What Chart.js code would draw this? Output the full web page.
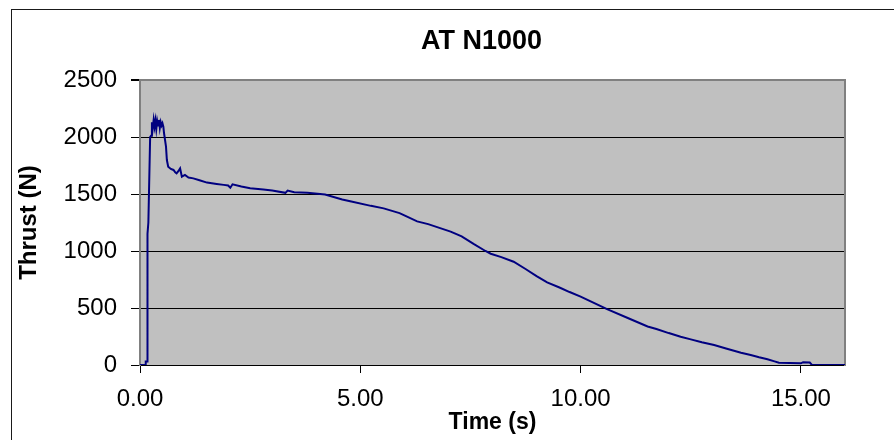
<!DOCTYPE html>
<html>
<head>
<meta charset="utf-8">
<script src="https://cdn.jsdelivr.net/npm/chart.js@4"></script>
<style>
  html, body { margin: 0; padding: 0; background: #ffffff; }
  #wrap { width: 894px; height: 440px; position: relative; }
</style>
</head>
<body>
<div id="wrap"><canvas id="c"></canvas></div>
<script>
const chartTitle = 'AT N1000';
const xAxisTitle = 'Time (s)';
const yAxisTitle = 'Thrust (N)';
const xTickValues = [0, 5, 10, 15];
const yTickValues = [0, 500, 1000, 1500, 2000, 2500];

const timeS = [0, 0.12, 0.13, 0.16, 0.17, 0.19, 0.23, 0.25, 0.27, 0.29, 0.31, 0.33, 0.35, 0.37,
  0.39, 0.41, 0.43, 0.45, 0.47, 0.49, 0.51, 0.53, 0.545, 0.59, 0.61, 0.64, 0.70, 0.76, 0.80,
  0.83, 0.87, 0.91, 0.95, 1.02, 1.10, 1.21, 1.35, 1.52, 1.74, 1.90, 2.00, 2.05, 2.10, 2.30,
  2.50, 2.80, 3.00, 3.30, 3.35, 3.50, 3.80, 4.20, 4.59, 4.77, 5.24, 5.53, 5.89, 6.00, 6.29,
  6.54, 7.05, 7.30, 7.57, 7.84, 7.96, 8.20, 8.48, 8.75, 9.00, 9.24, 9.52, 9.75, 10.00, 10.30,
  10.60, 11.07, 11.52, 11.72, 12.00, 12.27, 12.50, 12.75, 13.03, 13.30, 13.64, 13.86, 14.05,
  14.24, 14.40, 14.50, 15.00, 15.05, 15.20, 15.25, 16.00];
const thrustN = [0, 0, 30, 30, 1150, 1250, 2000, 2010, 2130, 2080, 2150, 2090, 2145, 2070,
  2140, 2100, 2150, 2080, 2130, 2100, 2120, 2090, 2035, 1915, 1798, 1740, 1720, 1711, 1690,
  1681, 1700, 1725, 1652, 1667, 1645, 1637, 1620, 1600, 1588, 1580, 1575, 1555, 1585, 1565,
  1550, 1540, 1530, 1510, 1530, 1515, 1510, 1495, 1452, 1436, 1396, 1374, 1332, 1312, 1260,
  1236, 1170, 1128, 1062, 1000, 976, 946, 906, 842, 780, 724, 680, 640, 600, 545,
  490, 412, 338, 316, 280, 248, 225, 200, 175, 145, 108, 88, 68,
  50, 32, 20, 15, 25, 22, 0, 0];

const FONT = "'Liberation Sans', Arial, sans-serif";

const framePlugin = {
  id: 'frame',
  beforeDraw(chart) {
    const {ctx, chartArea: a} = chart;
    ctx.save();
    ctx.fillStyle = '#ffffff';
    ctx.fillRect(0, 0, chart.width, chart.height);
    ctx.fillStyle = '#c0c0c0';
    ctx.fillRect(a.left, a.top, a.right - a.left, a.bottom - a.top);
    ctx.strokeStyle = '#1a1a1a';
    ctx.lineWidth = 1;
    ctx.strokeRect(11.5, 9.5, 1000, 1000);
    ctx.restore();
  }
};

new Chart(document.getElementById('c'), {
  type: 'line',
  data: {
    datasets: [{
      data: timeS.map((t, i) => ({x: t, y: thrustN[i]})),
      borderColor: '#000080',
      borderWidth: 2,
      pointRadius: 0,
      tension: 0,
      fill: false
    }]
  },
  options: {
    responsive: true,
    maintainAspectRatio: false,
    animation: false,
    layout: { padding: { left: 11, right: -58, top: 0, bottom: 0 } },
    plugins: {
      legend: { display: false },
      tooltip: { enabled: false },
      title: {
        display: true,
        text: chartTitle,
        color: '#000000',
        font: { family: FONT, size: 27, weight: 'bold', lineHeight: 1.2 },
        padding: { top: 25.5, bottom: 22.1 }
      }
    },
    scales: {
      x: {
        type: 'linear',
        min: 0,
        max: 16,
        afterBuildTicks: s => { s.ticks = xTickValues.map(v => ({value: v})); },
        afterFit: s => { s.height = 75; },
        ticks: {
          autoSkip: false,
          maxRotation: 0,
          color: '#000000',
          padding: 12,
          font: { family: FONT, size: 24 },
          callback: v => Number(v).toFixed(2)
        },
        grid: { drawOnChartArea: false, drawTicks: true, tickLength: 8, color: '#000000', tickColor: '#000000' },
        border: { display: true, color: '#000000', width: 1 },
        title: {
          display: true,
          text: xAxisTitle,
          color: '#000000',
          font: { family: FONT, size: 23, weight: 'bold', lineHeight: 1.2 },
          padding: { top: 0, bottom: 4 }
        }
      },
      y: {
        type: 'linear',
        position: 'left',
        min: 0,
        max: 2500,
        afterBuildTicks: s => { s.ticks = yTickValues.map(v => ({value: v})); },
        afterFit: s => { s.width = 129; },
        ticks: {
          color: '#000000',
          padding: 14,
          font: { family: FONT, size: 24 },
          callback: v => String(v)
        },
        grid: {
          color: c => (c.tick && c.tick.value === 2500) ? '#808080' : '#000000',
          lineWidth: c => (c.tick && c.tick.value === 2500) ? 2 : 1,
          tickColor: '#000000',
          tickLength: 9
        },
        border: { display: true, color: '#808080', width: 2 },
        title: {
          display: true,
          text: yAxisTitle,
          color: '#000000',
          font: { family: FONT, size: 24, weight: 'bold', lineHeight: 1.2 },
          padding: { top: 4, bottom: 0 }
        }
      },
      y2: {
        type: 'linear',
        position: 'right',
        min: 0,
        max: 2500,
        afterFit: s => { s.width = 107; },
        ticks: { display: false },
        grid: { display: true, drawOnChartArea: false, drawTicks: false },
        border: { display: true, color: '#808080', width: 2 }
      }
    }
  },
  plugins: [framePlugin]
});
</script>
</body>
</html>
